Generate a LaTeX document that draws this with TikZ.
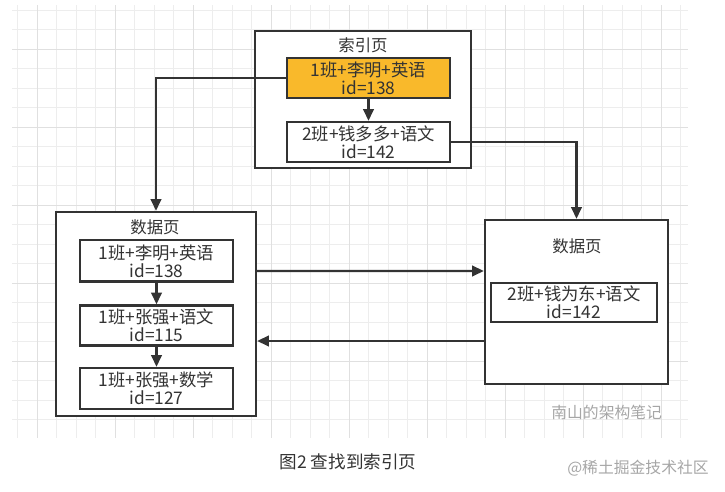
\documentclass[tikz,border=0pt]{standalone}
\usepackage{fontspec}
\setmainfont{Noto Sans CJK SC}
\usepackage{xcolor}
\usetikzlibrary{arrows.meta,positioning,calc}
\definecolor{ink}{HTML}{333333}
\definecolor{hit}{HTML}{F9B92B}

\begin{document}
\begin{tikzpicture}[
  pg/.style={draw=ink, line width=2pt, inner sep=0pt},
  rec/.style={draw=ink, line width=2pt, align=center, inner sep=0pt, text=ink,
    font=\fontsize{14.8}{15.6}\selectfont, minimum width=4.89cm, minimum height=1.2cm},
  ttl/.style={text=ink, font=\fontsize{14}{16}\selectfont},
  ar/.style={-{Triangle[length=10pt,width=9pt]}, draw=ink, line width=1.8pt},
  wm/.style={text=gray!70, font=\fontsize{13.5}{15}\selectfont}
]
\useasboundingbox (0,0) rectangle (21.75,14.76);
% background grid
\begin{scope}[shift={(1.11,13.29)}]
  \draw[black!7, line width=0.4pt, step=0.585] (-0.75,-11.67) grid (19.53,1.32);
  \draw[black!12, line width=0.5pt, step=2.34] (-0.75,-11.67) grid (19.53,1.32);
\end{scope}

% index page
\node[pg, minimum width=6.48cm, minimum height=4.11cm, fill=white] (idx) at (10.89,11.775) {};
\node[ttl] (idxt) at (10.89,13.41) {索引页};
\node[rec, fill=hit] (i1) at (11.055,12.42) {1班+李明+英语\\id=138};
\node[rec, fill=white] (i2) at (11.055,10.5) {2班+钱多多+语文\\id=142};

% left data page
\node[pg, minimum width=6cm, minimum height=6.12cm, fill=white] (dl) at (4.68,5.34) {};
\node[ttl] (dlt) at (4.65,7.95) {数据页};
\node[rec, minimum width=4.59cm, minimum height=1.24cm] (d1) at (4.695,6.93) {1班+李明+英语\\id=138};
\node[rec, minimum width=4.59cm, minimum height=1.2cm] (d2) at (4.695,4.995) {1班+张强+语文\\id=115};
\node[rec, minimum width=4.59cm, minimum height=1.23cm] (d3) at (4.695,3.105) {1班+张强+数学\\id=127};

% right data page
\node[pg, minimum width=5.49cm, minimum height=4.92cm, fill=white] (dr) at (17.295,5.7) {};
\node[ttl] (drt) at (17.31,7.38) {数据页};
\node[rec, minimum width=4.98cm, minimum height=1.17cm] (r1) at (17.22,5.685) {2班+钱为东+语文\\id=142};

% links
\draw[ar] (i1) -- (i2);
\draw[ar] (i1.west) -| (dl.north);
\draw[ar] (i2.east) -| (dr.north);
\draw[ar] (d1) -- (d2);
\draw[ar] (d2) -- (d3);
\draw[ar] ([yshift=1.29cm]dl.east) -- ([yshift=0.93cm]dr.west);
\draw[ar] ([yshift=-1.17cm]dr.west) -- ([yshift=-0.81cm]dl.east);

% caption and marks
\node[text=ink, font=\fontsize{15}{17}\selectfont] (cap) at (10.44,0.9) {图2 查找到索引页};
\node[wm] (wm1) at (18.2,2.4) {南山的架构笔记};
\node[wm] (wm2) at (19.14,0.72) {@稀土掘金技术社区};
\end{tikzpicture}
\end{document}
